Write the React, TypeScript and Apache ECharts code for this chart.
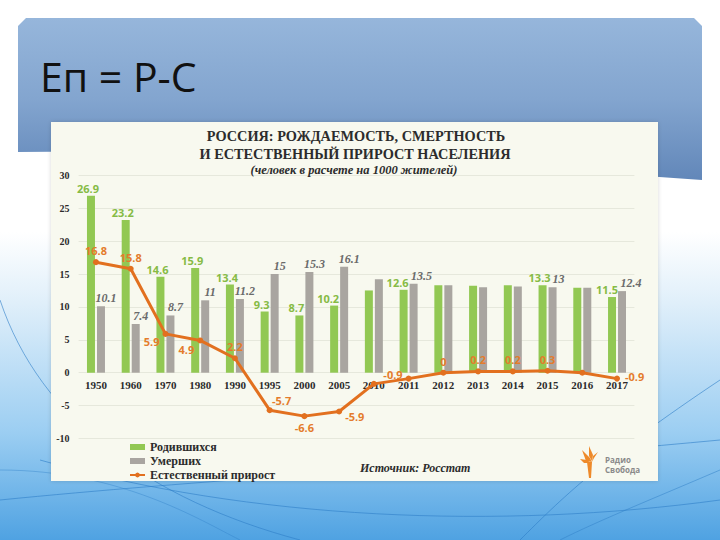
import React, { useEffect, useRef } from "react";
import * as echarts from "echarts";

const years = ["1950", "1960", "1970", "1980", "1990", "1995", "2000", "2005", "2010", "2011", "2012", "2013", "2014", "2015", "2016", "2017"];
const births = [26.9, 23.2, 14.6, 15.9, 13.4, 9.3, 8.7, 10.2, 12.5, 12.6, 13.3, 13.2, 13.3, 13.3, 12.9, 11.5];
const deaths = [10.1, 7.4, 8.7, 11, 11.2, 15, 15.3, 16.1, 14.2, 13.5, 13.3, 13.0, 13.1, 13, 12.9, 12.4];
const increase = [16.8, 15.8, 5.9, 4.9, 2.2, -5.7, -6.6, -5.9, -1.7, -0.9, 0, 0.2, 0.2, 0.3, 0, -0.9];
const yTicks = { min: -10, max: 30, interval: 5 };

const seriesNames = ["Родившихся", "Умерших", "Естественный прирост"];
const slideTitle = "Еп = Р-С";
const chartTitle = ["РОССИЯ: РОЖДАЕМОСТЬ, СМЕРТНОСТЬ", "И ЕСТЕСТВЕННЫЙ ПРИРОСТ НАСЕЛЕНИЯ", "(человек в расчете на 1000 жителей)"];
const sourceText = "Источник: Росстат";
const logoText = ["Радио", "Свобода"];

// label presentation (style only)
const hiddenBarLabels = new Set(["2010", "2012", "2013", "2014", "2016"]);
const birthLabelOffset: Record<string, number[]> = { "2005": [-6, 0], "2011": [-6, 0], "2017": [-5, 0] };
const deathLabelOffset: Record<string, number[]> = { "2011": [8, 0], "2017": [9, 0], "2015": [6, 0] };
const incLabelStyle: Record<string, any> = {
  "1970": { position: "left", offset: [0, 8] },
  "1980": { position: "left", offset: [0, 9] },
  "1995": { position: "top", offset: [12, 2] },
  "2000": { position: "bottom" },
  "2005": { position: "right", offset: [0, 5] },
  "2010": { show: false },
  "2011": { position: "left", offset: [0, -4] },
  "2016": { show: false },
  "2017": { position: "right", offset: [2, -2] },
};

const GREEN = "#92c853";
const GREY = "#a9a5a0";
const ORANGE = "#e2701f";

const GRID_TOP = 175.3;
const GRID_BOTTOM = 101.5;

export default function App() {
  const ref = useRef<HTMLDivElement>(null);
  useEffect(() => {
    if (!ref.current) return;
    const chart = echarts.init(ref.current, undefined, { renderer: "svg" });

    const plotH = 540 - GRID_TOP - GRID_BOTTOM;
    const zeroOffset = (-yTicks.min / (yTicks.max - yTicks.min)) * plotH;

    const birthData = births.map((v, i) => ({
      value: v,
      label: {
        show: !hiddenBarLabels.has(years[i]),
        offset: birthLabelOffset[years[i]] || [-3, 0],
      },
    }));
    const deathData = deaths.map((v, i) => ({
      value: v,
      label: {
        show: !hiddenBarLabels.has(years[i]),
        offset: deathLabelOffset[years[i]] || [5, 0],
      },
    }));
    const incData = increase.map((v, i) => ({
      value: v,
      label: { position: "top", ...(incLabelStyle[years[i]] || {}) },
    }));

    const bgCurve = (x1: number, y1: number, cpx1: number, cpy1: number, cpx2: number, cpy2: number, x2: number, y2: number, op = 0.6) => ({
      type: "bezierCurve",
      z: -9,
      silent: true,
      shape: { x1, y1, cpx1, cpy1, cpx2, cpy2, x2, y2 },
      style: { stroke: "#2f7fc8", fill: null, lineWidth: 1, opacity: op },
    });

    chart.setOption({
      animation: false,
      graphic: {
        elements: [
          {
            type: "rect",
            z: -10,
            silent: true,
            shape: { x: 0, y: 0, width: 720, height: 540 },
            style: {
              fill: new echarts.graphic.LinearGradient(0, 0, 0, 1, [
                { offset: 0, color: "#ffffff" },
                { offset: 0.43, color: "#ffffff" },
                { offset: 0.56, color: "#e0effa" },
                { offset: 0.8, color: "#9ccef2" },
                { offset: 1, color: "#4fa2e2" },
              ]),
            },
          },
          {
            type: "polygon",
            z: -9,
            silent: true,
            shape: { points: [[18, 26], [26, 18], [694, 18], [702, 26], [702, 180], [560, 170], [300, 150], [18, 152]] },
            style: {
              fill: new echarts.graphic.LinearGradient(0, 0, 0, 1, [
                { offset: 0, color: "#96b6db" },
                { offset: 0.5, color: "#83a5cf" },
                { offset: 1, color: "#6287b9" },
              ]),
            },
          },
          bgCurve(0, 300, 40, 420, 150, 500, 300, 540),
          bgCurve(0, 500, 200, 480, 400, 470, 720, 440),
          bgCurve(40, 460, 250, 520, 500, 530, 720, 500),
          bgCurve(720, 380, 600, 460, 560, 500, 520, 540),
          bgCurve(0, 470, 120, 470, 200, 520, 240, 540, 0.4),
          bgCurve(720, 470, 650, 500, 600, 520, 560, 540, 0.5),
          {
            type: "rect",
            z: -8,
            silent: true,
            shape: { x: 51, y: 122, width: 607, height: 359 },
            style: { fill: "#f8f9ef", shadowBlur: 4, shadowColor: "rgba(0,0,0,0.15)" },
          },
          {
            type: "text",
            z: 50,
            x: 40,
            y: 76,
            style: { text: slideTitle, x: 0, y: 0, fill: "#111", font: "41px 'Open Sans', sans-serif", verticalAlign: "middle" },
          },
          {
            type: "text",
            z: 50,
            style: { text: chartTitle[0], x: 356, y: 136, align: "center", verticalAlign: "middle", fill: "#2c2c2c", font: "bold 14.3px 'Liberation Serif', serif" },
          },
          {
            type: "text",
            z: 50,
            style: { text: chartTitle[1], x: 355, y: 154, align: "center", verticalAlign: "middle", fill: "#2c2c2c", font: "bold 14.3px 'Liberation Serif', serif" },
          },
          {
            type: "text",
            z: 50,
            style: { text: chartTitle[2], x: 354, y: 170, align: "center", verticalAlign: "middle", fill: "#2c2c2c", font: "italic bold 12.5px 'Liberation Serif', serif" },
          },
          {
            type: "text",
            z: 50,
            style: { text: sourceText, x: 360, y: 468, verticalAlign: "middle", fill: "#2c2c2c", font: "italic bold 12px 'Liberation Serif', serif" },
          },
          // logo torch
          { type: "polygon", z: 50, shape: { points: [[587, 462], [592, 462], [591, 478], [589, 478]] }, style: { fill: "#ee8a2a" } },
          { type: "polygon", z: 50, shape: { points: [[582, 450], [590, 458], [592, 462], [586, 461]] }, style: { fill: "#ee8a2a" } },
          { type: "polygon", z: 50, shape: { points: [[589, 446], [593, 455], [592, 461], [589, 456]] }, style: { fill: "#ee8a2a" } },
          { type: "polygon", z: 50, shape: { points: [[598, 452], [594, 458], [592, 462], [593, 456]] }, style: { fill: "#ee8a2a" } },
          { type: "polygon", z: 50, shape: { points: [[580, 459], [587, 460], [591, 463], [584, 463]] }, style: { fill: "#ee8a2a" } },
          {
            type: "text",
            z: 50,
            style: { text: logoText[0], x: 605, y: 459, verticalAlign: "middle", fill: "#8a8a8a", font: "bold 8px 'Open Sans', sans-serif" },
          },
          {
            type: "text",
            z: 50,
            style: { text: logoText[1], x: 605, y: 469, verticalAlign: "middle", fill: "#8a8a8a", font: "bold 8px 'Open Sans', sans-serif" },
          },
        ],
      },
      legend: {
        orient: "vertical",
        left: 124,
        top: 435,
        itemWidth: 15,
        itemHeight: 6,
        itemGap: 0,
        selectedMode: false,
        textStyle: { fontFamily: "'Liberation Serif', serif", fontWeight: "bold", fontSize: 12, color: "#2b2b2b", lineHeight: 14 },
        data: [
          { name: seriesNames[0], icon: "rect" },
          { name: seriesNames[1], icon: "rect" },
          { name: seriesNames[2] },
        ],
      },
      grid: { left: 78.6, right: 85.6, top: GRID_TOP, bottom: GRID_BOTTOM },
      xAxis: {
        type: "category",
        data: years,
        position: "bottom",
        offset: -zeroOffset,
        axisLine: { show: false, onZero: false },
        axisTick: { show: false },
        axisLabel: { margin: 7, color: "#2b2b2b", fontFamily: "'Liberation Serif', serif", fontWeight: "bold", fontSize: 11 },
      },
      yAxis: {
        type: "value",
        min: yTicks.min,
        max: yTicks.max,
        interval: yTicks.interval,
        axisLine: { show: false },
        axisTick: { show: false },
        splitLine: { lineStyle: { color: "#e6e8dc", width: 1 } },
        axisLabel: { margin: 9, color: "#2b2b2b", fontFamily: "'Liberation Serif', serif", fontWeight: "bold", fontSize: 10 },
      },
      series: [
        {
          name: seriesNames[0],
          type: "bar",
          data: birthData,
          barWidth: 8,
          barGap: "25%",
          itemStyle: { color: GREEN },
          label: { show: true, position: "top", distance: 2, color: "#86bb45", fontFamily: "'Open Sans', sans-serif", fontWeight: "bold", fontSize: 11 },
        },
        {
          name: seriesNames[1],
          type: "bar",
          data: deathData,
          barWidth: 8,
          barGap: "25%",
          itemStyle: { color: GREY },
          label: { show: true, position: "top", distance: 2, color: "#6b6b6b", fontFamily: "'Liberation Serif', serif", fontStyle: "italic", fontWeight: "bold", fontSize: 12 },
        },
        {
          name: seriesNames[2],
          type: "line",
          data: incData,
          symbol: "circle",
          symbolSize: 6,
          z: 5,
          lineStyle: { color: ORANGE, width: 3 },
          itemStyle: { color: ORANGE },
          label: { show: true, distance: 3, color: "#e47c2c", fontFamily: "'Open Sans', sans-serif", fontWeight: "bold", fontSize: 11 },
        },
      ],
    });
    return () => chart.dispose();
  }, []);
  return <div ref={ref} style={{ position: "absolute", left: 0, top: 0, width: 720, height: 540 }} />;
}
